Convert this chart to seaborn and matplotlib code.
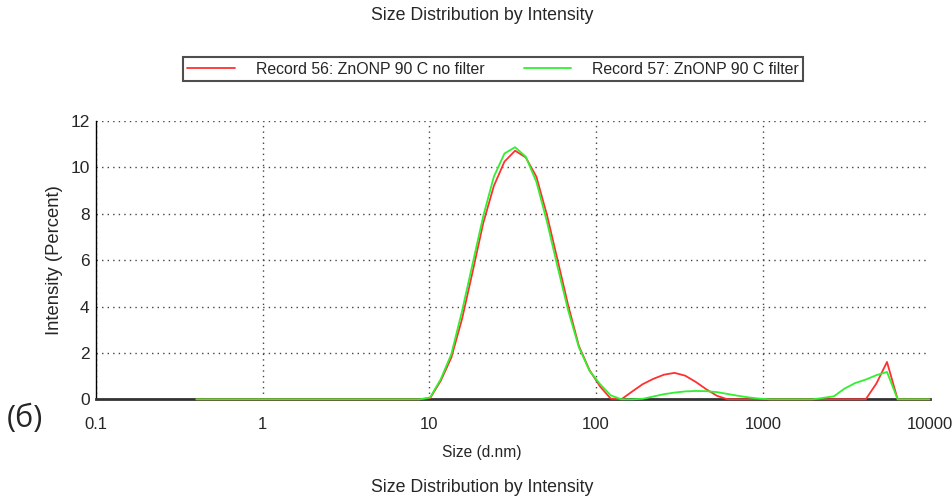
import numpy as np
import pandas as pd
import seaborn as sns
import matplotlib.pyplot as plt
from matplotlib.ticker import LogLocator, FixedLocator, NullFormatter, FuncFormatter

# size classes (d.nm)
sizes = [0.4, 0.4632, 0.5365, 0.6213, 0.7195, 0.8332, 0.9649, 1.117, 1.294, 1.499,
         1.736, 2.010, 2.328, 2.696, 3.122, 3.615, 4.187, 4.849, 5.615, 6.503,
         7.531, 8.721, 10.10, 11.70, 13.54, 15.69, 18.17, 21.04, 24.36, 28.21,
         32.67, 37.84, 43.82, 50.75, 58.77, 68.06, 78.82, 91.28, 105.7, 122.4,
         141.8, 164.2, 190.1, 220.2, 255.0, 295.3, 342.0, 396.1, 458.7, 531.2,
         615.1, 712.4, 825.0, 955.4, 1106, 1281, 1484, 1718, 1990, 2305,
         2669, 3091, 3580, 4145, 4801, 5560, 6439, 7456, 8635, 10000]

# Record 56: ZnONP 90 C no filter
rec56 = [0] * 22 + [0.05, 0.80, 1.80, 3.46, 5.50, 7.60, 9.20, 10.25,
                    10.72, 10.43, 9.60, 7.94, 6.00, 4.04, 2.30, 1.26, 0.55, 0.03,
                    0.00, 0.33, 0.65, 0.88, 1.06, 1.14, 1.02, 0.75, 0.43, 0.15,
                    0, 0, 0, 0, 0, 0, 0, 0, 0, 0,
                    0, 0, 0, 0, 0.68, 1.61, 0, 0, 0, 0]

# Record 57: ZnONP 90 C filter
rec57 = [0] * 22 + [0.08, 0.87, 1.95, 3.80, 5.85, 7.90, 9.60, 10.60,
                    10.87, 10.46, 9.38, 7.65, 5.70, 3.82, 2.24, 1.23, 0.65, 0.17,
                    0.00, 0.00, 0.02, 0.12, 0.22, 0.29, 0.34, 0.36, 0.35, 0.31,
                    0.23, 0.15, 0.08, 0.03, 0, 0, 0, 0, 0, 0.06,
                    0.13, 0.46, 0.70, 0.85, 1.04, 1.18, 0, 0, 0, 0]

labels = ["Record 56: ZnONP 90 C no filter", "Record 57: ZnONP 90 C filter"]
colors = ["#ff3030", "#30f030"]

df = pd.DataFrame({
    "Size": sizes * 2,
    "Intensity": rec56 + rec57,
    "Record": [labels[0]] * len(sizes) + [labels[1]] * len(sizes),
})

sns.set_style("white")
plt.rcParams['font.family'] = ['Liberation Sans', 'DejaVu Sans']

W, H = 953, 500
fig = plt.figure(figsize=(W / 100, H / 100), dpi=100)
ax = fig.add_axes([96 / W, 1 - 399.3 / H, 833.5 / W, 278.3 / H])

sns.lineplot(data=df, x="Size", y="Intensity", hue="Record", hue_order=labels,
             palette=colors, estimator=None, linewidth=1.3, ax=ax)
for ln in ax.get_lines():
    ln.set_clip_on(False)
    ln.set_zorder(5)

ax.set_xscale("log")
ax.set_xlim(0.1, 10000)
ax.set_ylim(0, 12)
ax.set_xticks([0.1, 1, 10, 100, 1000, 10000])
ax.xaxis.set_major_formatter(FuncFormatter(lambda v, p: f"{v:g}"))
ax.xaxis.set_minor_locator(LogLocator(base=10, subs=np.arange(2, 10), numticks=50))
ax.xaxis.set_minor_formatter(NullFormatter())
ax.set_yticks(np.arange(0, 13, 2))
ax.yaxis.set_minor_locator(FixedLocator(np.arange(1, 12, 2)))

ax.grid(True, which="major", linestyle=(0, (1, 3)), color="#444444", linewidth=1.0)
ax.set_axisbelow(True)
for s in ["top", "right"]:
    ax.spines[s].set_visible(False)
ax.spines["left"].set_color("black")
ax.spines["left"].set_linewidth(1.0)
ax.spines["bottom"].set_color("#333333")
ax.spines["bottom"].set_linewidth(2.0)

ax.tick_params(axis="x", which="major", direction="inout", length=8, width=1,
               color="black", labelsize=12, pad=9)
ax.tick_params(axis="x", which="minor", direction="inout", length=5, width=1, color="black")
ax.tick_params(axis="y", which="major", direction="inout", length=7, width=1,
               color="black", labelsize=12.5, pad=1)
ax.tick_params(axis="y", which="minor", direction="inout", length=5, width=1, color="black")

ax.set_xlabel("")
ax.set_ylabel("Intensity (Percent)", fontsize=13.3, labelpad=5)

cx = 482 / W
fig.text(cx, 1 - 15 / H, "Size Distribution by Intensity", ha="center", va="center", fontsize=12.8)
fig.text(cx, 1 - 453 / H, "Size (d.nm)", ha="center", va="center", fontsize=11.2)
fig.text(cx, 1 - 487 / H, "Size Distribution by Intensity", ha="center", va="center", fontsize=12.8)
fig.text(7 / W, 1 - 419 / H, "(б)", ha="left", va="center", fontsize=22, family="Open Sans")

sns.move_legend(ax, loc="center", bbox_to_anchor=(493 / W, 1 - 69 / H),
                bbox_transform=fig.transFigure, ncol=2, title=None, frameon=True,
                fancybox=False, fontsize=11.4, handlelength=3.0, handletextpad=1.3,
                columnspacing=2.5, borderpad=0.3, edgecolor="#222222")
leg = ax.get_legend()
leg.get_frame().set_linewidth(1.5)
for h in leg.get_lines():
    h.set_linewidth(1.3)

fig.savefig("out.png", dpi=100)
